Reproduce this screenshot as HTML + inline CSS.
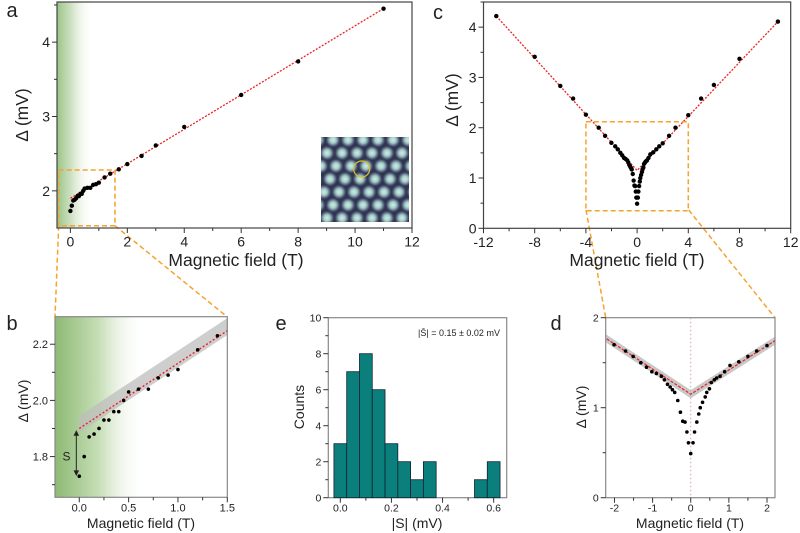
<!DOCTYPE html>
<html><head><meta charset="utf-8"><style>
html,body{margin:0;padding:0;background:#fff;}
svg{display:block;font-family:"Liberation Sans",Arial,sans-serif;}
</style></head><body>
<svg id="fig" width="800" height="533" viewBox="0 0 800 533" xmlns="http://www.w3.org/2000/svg">
<defs>
<linearGradient id="gA" x1="0" x2="1" y1="0" y2="0"><stop offset="0" stop-color="#9cc488"/><stop offset="0.4" stop-color="#cfe2c3"/><stop offset="1" stop-color="#ffffff" stop-opacity="0"/></linearGradient>
<linearGradient id="gB" x1="0" x2="1" y1="0" y2="0"><stop offset="0" stop-color="#8dba74"/><stop offset="0.5" stop-color="#c8dfb8"/><stop offset="1" stop-color="#ffffff" stop-opacity="0"/></linearGradient>
<radialGradient id="blob"><stop offset="0" stop-color="#d4ece8"/><stop offset="0.4" stop-color="#a3cbc7"/><stop offset="0.75" stop-color="#4e5a76"/><stop offset="1" stop-color="#30344f" stop-opacity="0"/></radialGradient>
<clipPath id="clipInset"><rect x="321" y="137" width="88" height="85"/></clipPath>
<clipPath id="clipB"><rect x="55" y="316.7" width="172.3" height="180.6"/></clipPath>
<clipPath id="clipD"><rect x="605.7" y="317.7" width="169.3" height="180"/></clipPath>
</defs>
</svg>
<script>
// ---------- data ----------
const aB = [0,0.05,0.1,0.15,0.2,0.25,0.3,0.35,0.4,0.45,0.5,0.6,0.7,0.8,0.9,1.0,1.2,1.4,1.7,2,2.5,3,4,6,8,11];
const aD = [1.73,1.80,1.87,1.88,1.90,1.93,1.93,1.96,1.96,2.00,2.03,2.04,2.04,2.08,2.09,2.11,2.18,2.23,2.29,2.36,2.47,2.61,2.86,3.29,3.74,4.45];
const aFit = [1.90,0.232];
const cOuterB = [-11,-8,-6,-5,-4,-3,-2.5,2.5,3,4,5,6,8,11];
const cOuterD = [4.22,3.41,2.83,2.58,2.26,2.00,1.84,1.84,2.00,2.25,2.58,2.85,3.37,4.11];
const dB = [-2.01,-1.71,-1.51,-1.31,-1.16,-1.02,-0.90,-0.77,-0.69,-0.61,-0.54,-0.48,-0.42,-0.34,-0.27,-0.21,-0.15,-0.10,-0.06,0,0.06,0.10,0.16,0.21,0.25,0.31,0.38,0.42,0.49,0.54,0.62,0.68,0.77,0.89,1.03,1.26,1.50,1.73,2.0];
const dD = [1.70,1.63,1.57,1.50,1.45,1.40,1.38,1.35,1.31,1.26,1.23,1.20,1.17,1.08,0.95,0.85,0.84,0.73,0.61,0.49,0.61,0.73,0.84,0.93,1.00,1.06,1.12,1.17,1.21,1.28,1.31,1.33,1.35,1.40,1.47,1.51,1.57,1.63,1.69];
const vFit = [1.15,-0.279,0.269];
const eBins = [0,0.05,0.1,0.15,0.2,0.25,0.3,0.35,0.55,0.6];
const eCounts = [3,7,8,6,3,2,1,2,1,2];
const aXTicks = [0,2,4,6,8,10,12];
const aYTicks = [2,3,4];
const cXTicks = [-12,-8,-4,0,4,8,12];
const cYTicks = [0,1,2,3,4];
const bXTicks = [0.0,0.5,1.0,1.5];
const bYTicks = [1.8,2.0,2.2];
const eXTicks = [0.0,0.2,0.4,0.6];
const eYTicks = [0,2,4,6,8,10];
const dXTicks = [-2,-1,0,1,2];
const dYTicks = [0,1,2];

const NS="http://www.w3.org/2000/svg";
const svg=document.getElementById('fig');
function el(tag,attrs,parent){const e=document.createElementNS(NS,tag);for(const k in attrs)e.setAttribute(k,attrs[k]);(parent||svg).appendChild(e);return e;}
function txt(s,x,y,size,anchor,parent,rot){const t=el('text',{x:x,y:y,'font-size':size,'text-anchor':anchor||'middle',fill:'#222'},parent);if(rot)t.setAttribute('transform','rotate(-90 '+x+' '+y+')');t.textContent=s;return t;}
function scale(d0,d1,p0,p1){return v=>p0+(v-d0)*(p1-p0)/(d1-d0);}

function axes(name,P,xt,yt,xminor,yminor,fs,fmtx,fmty,frameCol,xoff){
  const g=el('g',{});
  
  
  const sx=scale(P.xmin,P.xmax,P.x0,P.x1), sy=scale(P.ymin,P.ymax,P.y1,P.y0);
  el('rect',{x:P.x0,y:P.y0,width:P.x1-P.x0,height:P.y1-P.y0,fill:'none',stroke:frameCol,'stroke-width':1.2},g);
  xt.forEach(v=>{const x=sx(v);el('line',{x1:x,x2:x,y1:P.y1,y2:P.y1+5,stroke:'#333'},g);const t=txt(fmtx(v),x,P.y1+xoff+fs*0.75,fs,'middle',g);});
  xminor.forEach(v=>{const x=sx(v);el('line',{x1:x,x2:x,y1:P.y1,y2:P.y1+3,stroke:'#333'},g);});
  yt.forEach(v=>{const y=sy(v);el('line',{x1:P.x0,x2:P.x0-5,y1:y,y2:y,stroke:'#333'},g);const t=txt(fmty(v),P.x0-7,y+fs*0.36,fs,'end',g);});
  yminor.forEach(v=>{const y=sy(v);el('line',{x1:P.x0,x2:P.x0-3,y1:y,y2:y,stroke:'#333'},g);});
  return {sx,sy,g};
}

// ---------- orange connector lines ----------
const conn=el('g',{stroke:'#f5a230','stroke-width':1.5,'stroke-dasharray':'5,3',fill:'none'});


el('line',{x1:58.7,y1:225.7,x2:55,y2:316.7},conn);
el('line',{x1:115,y1:225.7,x2:227,y2:316.7},conn);
el('line',{x1:586,y1:210,x2:605.7,y2:317.7},conn);
el('line',{x1:688.7,y1:210,x2:775,y2:317.7},conn);

// ---------- Panel a ----------
const PA={x0:57,x1:412,y0:2,y1:228,xmin:-0.47,xmax:12,ymin:1.5,ymax:4.54};
el('rect',{x:57,y:2,width:36,height:226,fill:'url(#gA)'});
const ins=el('g',{'clip-path':'url(#clipInset)'});


el('rect',{x:321,y:137,width:88,height:85,fill:'#30344f'},ins);
for(let r=-1;r<8;r++){for(let c=-1;c<8;c++){const x=318+c*15+(r%2?7.5:0)+r*1.5,y=140+r*13;el('circle',{cx:x,cy:y,r:8,fill:'url(#blob)'},ins);}}
el('circle',{cx:361.7,cy:169,r:8,fill:'none',stroke:'#d8c030','stroke-width':1.2});
const A=axes('panel-a',PA,aXTicks,aYTicks,[1,3,5,7,9,11],[2.5,3.5,4.5],14,v=>String(v),v=>String(v),'#444',8);
{const l=el('line',{x1:A.sx(0),y1:A.sy(aFit[0]),x2:A.sx(11),y2:A.sy(aFit[0]+aFit[1]*11),stroke:'#ee2222','stroke-width':1.3,'stroke-dasharray':'2,1.5'});}
aB.forEach((b,i)=>{const c=el('circle',{cx:A.sx(b),cy:A.sy(aD[i]),r:2.2,fill:'#000'});});
{const r=el('rect',{x:58.7,y:170,width:56.3,height:55.7,fill:'none',stroke:'#f5a230','stroke-width':1.5,'stroke-dasharray':'5,3'});}
txt('Magnetic field (T)',236,266,17.5);
txt('\u0394 (mV)',28,115,17.5,'middle',null,true);
txt('a',12,17,20);

// ---------- Panel c ----------
const PC={x0:483.5,x1:790.7,y0:2,y1:228.3,xmin:-12,xmax:12,ymin:0,ymax:4.5};
const C=axes('panel-c',PC,cXTicks,cYTicks,[-10,-6,-2,2,6,10],[0.5,1.5,2.5,3.5,4.5],14,v=>String(v),v=>String(v),'#444',8);
{const p=el('polyline',{points:[C.sx(-11),C.sy(vFit[0]+vFit[1]*-11),C.sx(0),C.sy(vFit[0]),C.sx(11),C.sy(vFit[0]+vFit[2]*11)].join(' '),fill:'none',stroke:'#ee2222','stroke-width':1.3,'stroke-dasharray':'2,1.5'});}
cOuterB.concat(dB).forEach((b,i)=>{const d=cOuterD.concat(dD)[i];const c=el('circle',{cx:C.sx(b),cy:C.sy(d),r:2.2,fill:'#000'});});
{const r=el('rect',{x:C.sx(-4),y:C.sy(2.12),width:C.sx(4)-C.sx(-4),height:C.sy(0.35)-C.sy(2.12),fill:'none',stroke:'#f5a230','stroke-width':1.5,'stroke-dasharray':'5,3'});}
txt('Magnetic field (T)',637,266,17.5);
txt('\u0394  (mV)',458,100,17.5,'middle',null,true);
txt('c',438,19,20);

// ---------- Panel b ----------
const PB={x0:55,x1:227.3,y0:316.7,y1:497.3,xmin:-0.246,xmax:1.5,ymin:1.655,ymax:2.298};
el('rect',{x:55,y:316.7,width:90,height:180.6,fill:'url(#gB)'});
const Bs=scale(PB.xmin,PB.xmax,PB.x0,PB.x1), Bsy=scale(PB.ymin,PB.ymax,PB.y1,PB.y0);
{const p=el('polygon',{points:[Bs(0),Bsy(aFit[0]-0.015),Bs(1.5),Bsy(aFit[0]+aFit[1]*1.5-0.015),Bs(1.5),Bsy(aFit[0]+aFit[1]*1.5+0.045),Bs(0),Bsy(aFit[0]+0.045)].join(' '),fill:'#bdbdbd','fill-opacity':0.75});}
const Bx=axes('panel-b',PB,bXTicks,bYTicks,[0.25,0.75,1.25],[1.7,1.9,2.1],11,v=>v.toFixed(1),v=>v.toFixed(1),'#888',6);
const gb=el('g',{'clip-path':'url(#clipB)'});
{const l=el('line',{x1:Bx.sx(0),y1:Bx.sy(aFit[0]),x2:Bx.sx(1.5),y2:Bx.sy(aFit[0]+aFit[1]*1.5),stroke:'#ee2222','stroke-width':1.4,'stroke-dasharray':'2,2'},gb);}
aB.forEach((b,i)=>{if(b>1.5)return;const c=el('circle',{cx:Bx.sx(b),cy:Bx.sy(aD[i]),r:1.8,fill:'#000'},gb);});
{const g=el('g',{stroke:'#222','stroke-width':1,fill:'#222'});
const x=Bx.sx(-0.03),y1=Bx.sy(1.89),y2=Bx.sy(1.735);el('line',{x1:x,x2:x,y1:y1+3,y2:y2-3},g);el('polygon',{points:`${x-2},${y1+4} ${x+2},${y1+4} ${x},${y1}`},g);el('polygon',{points:`${x-2},${y2-4} ${x+2},${y2-4} ${x},${y2}`},g);}
txt('S',Bx.sx(-0.13),Bx.sy(1.80)+4,12);
txt('Magnetic field (T)',141,528,14);
txt('\u0394 (mV)',28,401,14,'middle',null,true);
txt('b',12,330,20);

// ---------- Panel e ----------
const PE={x0:328.3,x1:506.7,y0:317.7,y1:497.7,xmin:-0.047,xmax:0.651,ymin:0,ymax:10};
const E=axes('panel-e',PE,eXTicks,eYTicks,[0.1,0.3,0.5],[1,3,5,7,9],10.5,v=>v.toFixed(1),v=>String(v),'#888',6);
eBins.forEach((b,i)=>{const x0=E.sx(b-0.025),x1=E.sx(b+0.025),y=E.sy(eCounts[i]);const r=el('rect',{x:x0,y:y,width:x1-x0,height:E.sy(0)-y,fill:'#0a7f7b',stroke:'#123',"stroke-width":0.8});});
txt('|S\u0304| = 0.15 \u00b1 0.02 mV',459,336,9);
txt('|S| (mV)',417,528,14);
txt('Counts',304,407,14,'middle',null,true);
txt('e',281,330,20);

// ---------- Panel d ----------
const PD={x0:605.7,x1:775,y0:317.7,y1:497.7,xmin:-2.23,xmax:2.21,ymin:0,ymax:2};
const Ds=scale(PD.xmin,PD.xmax,PD.x0,PD.x1), Dsy=scale(PD.ymin,PD.ymax,PD.y1,PD.y0);
{const L=-2.23,R=2.21,w=0.045;const f=v=>v<0?vFit[0]+vFit[1]*v:vFit[0]+vFit[2]*v;
const p=el('polygon',{points:[Ds(L),Dsy(f(L)+w),Ds(0),Dsy(f(0)+w),Ds(R),Dsy(f(R)+w),Ds(R),Dsy(f(R)-w),Ds(0),Dsy(f(0)-w),Ds(L),Dsy(f(L)-w)].join(' '),fill:'#c8c8c8'});}
const D=axes('panel-d',PD,dXTicks,dYTicks,[-1.5,-0.5,0.5,1.5],[0.5,1.5],10.5,v=>String(v),v=>String(v),'#888',6);
const gd=el('g',{'clip-path':'url(#clipD)'});
{const l=el('line',{x1:D.sx(0),x2:D.sx(0),y1:PD.y0,y2:PD.y1,stroke:'#c8a0b0','stroke-width':1,'stroke-dasharray':'1.5,2.5'},gd);}
{const p=el('polyline',{points:[D.sx(-2.3),D.sy(vFit[0]+vFit[1]*-2.3),D.sx(0),D.sy(vFit[0]),D.sx(2.3),D.sy(vFit[0]+vFit[2]*2.3)].join(' '),fill:'none',stroke:'#ee2222','stroke-width':1.2,'stroke-dasharray':'3,1.5'},gd);}
dB.forEach((b,i)=>{const c=el('circle',{cx:D.sx(b),cy:D.sy(dD[i]),r:1.8,fill:'#000'},gd);});
txt('Magnetic field (T)',690,528,14);
txt('\u0394 (mV)',586,407,14,'middle',null,true);
txt('d',556,330,20);
</script>
</body></html>
